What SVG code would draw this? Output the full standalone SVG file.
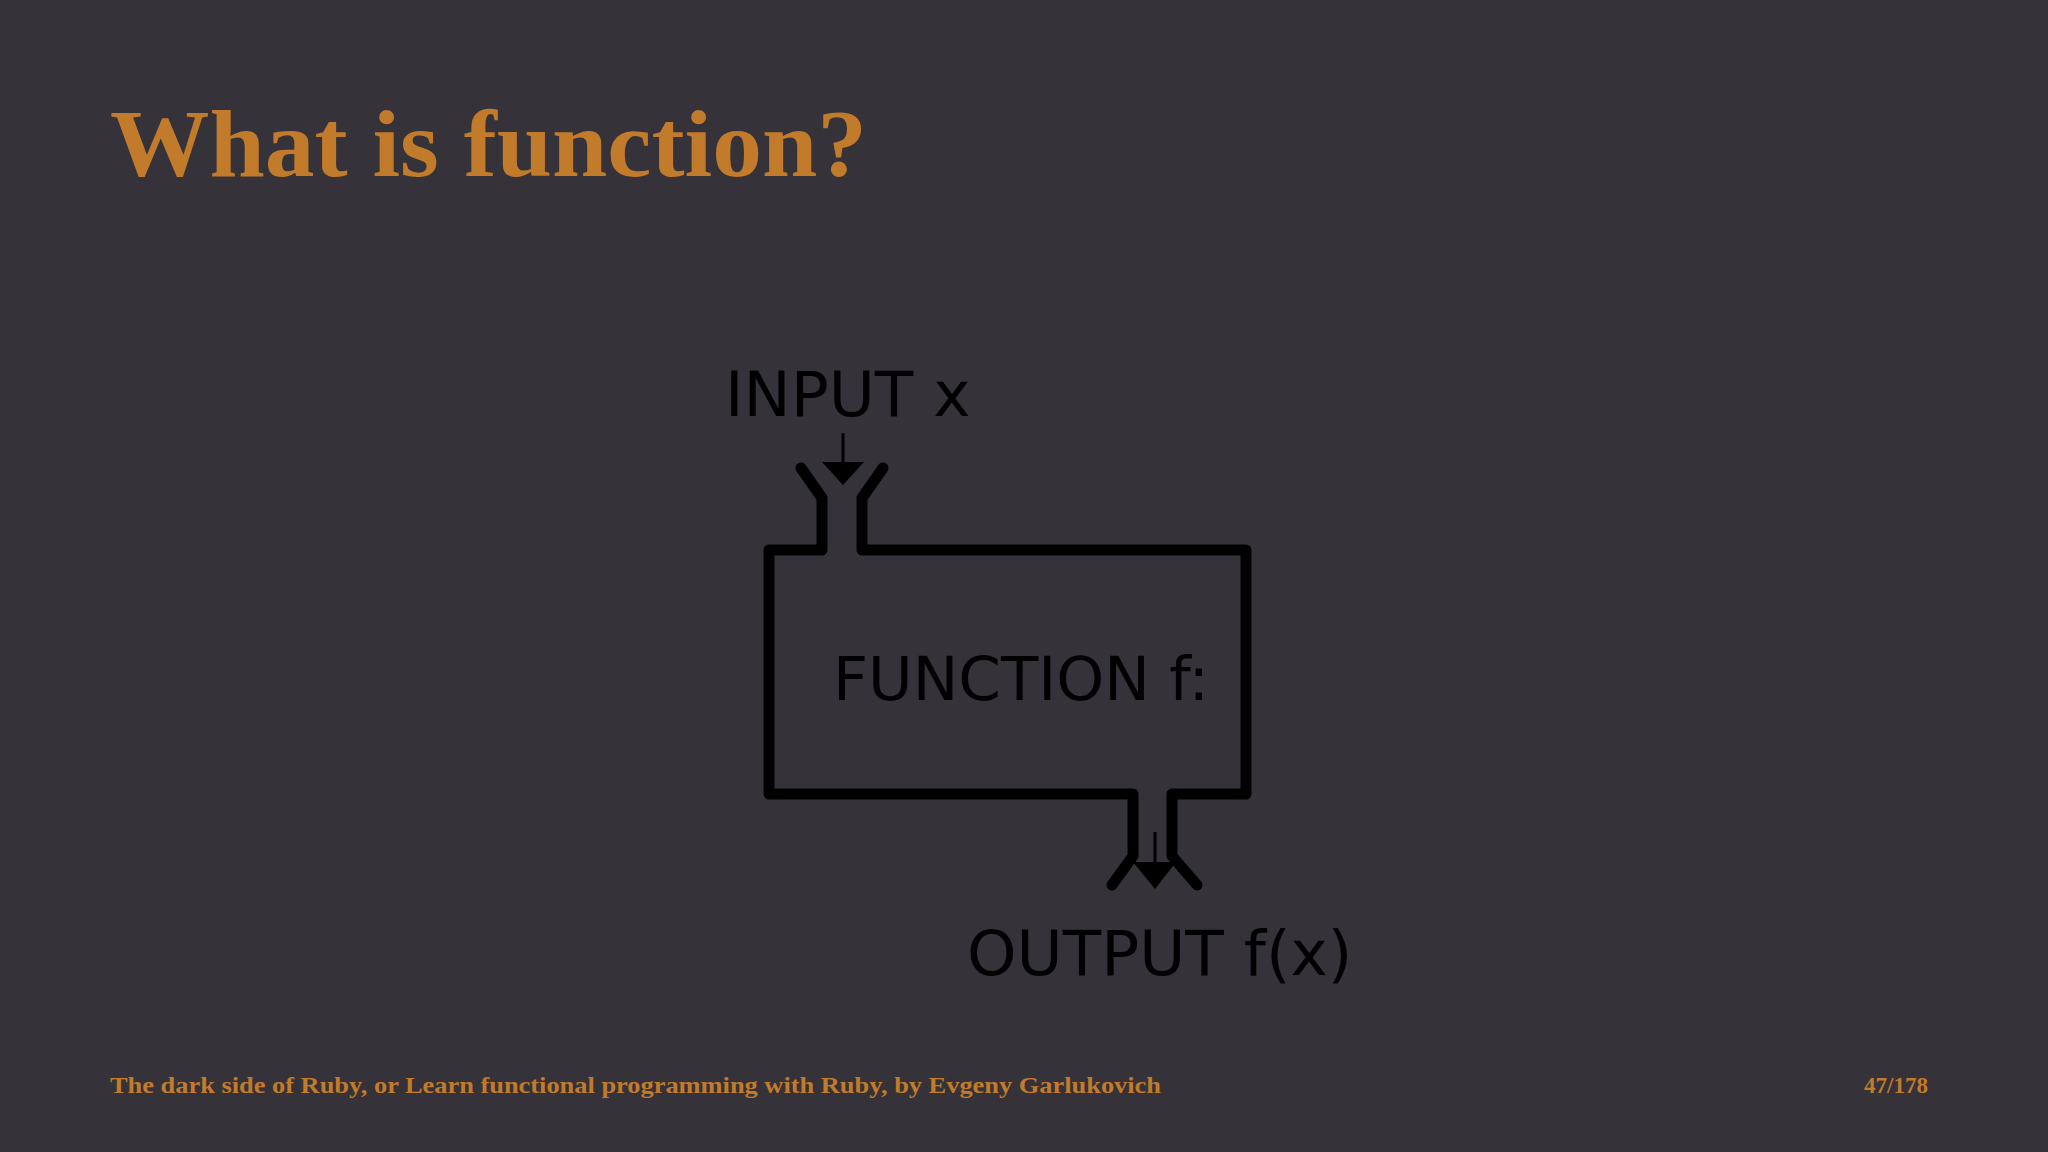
<svg xmlns="http://www.w3.org/2000/svg" width="2048" height="1152" viewBox="0 0 2048 1152">
<style>
.ln{fill:none;stroke:#000;stroke-width:11;stroke-linecap:round;stroke-linejoin:round}
.lbl{font-family:"DejaVu Sans",sans-serif;fill:#000}
.or{fill:#c27a2b;font-family:"Liberation Serif",serif;font-weight:bold}
</style>
<rect width="2048" height="1152" fill="#353339"/>
<text class="or" x="110" y="176" font-size="96" textLength="757" lengthAdjust="spacingAndGlyphs">What is function?</text>
<g id="function">
<path class="ln" d="M822,550 L822,498 L801,468 M862,550 L862,498 L883,468 M822,550 L769,550 L769,794 L1133,794 L1133,856 L1112,885 M862,550 L1246,550 L1246,794 L1172,794 L1172,856 L1197,885"/>
<text class="lbl" x="833" y="700" font-size="61">FUNCTION f:</text>
</g>
<g id="input">
<text class="lbl" x="725" y="416" font-size="63">INPUT x</text>
</g>
<g id="output">
<text class="lbl" x="967" y="975" font-size="63">OUTPUT f(x)</text>
</g>
<g id="connectors">
<line x1="843" y1="433" x2="843" y2="465" stroke="#000" stroke-width="3"/>
<polygon points="822,462 864,462 843,485" fill="#000"/>
<line x1="1155" y1="832" x2="1155" y2="865" stroke="#000" stroke-width="3"/>
<polygon points="1133,862 1176,862 1155,889" fill="#000"/>
</g>
<text class="or" x="110" y="1093" font-size="23" font-weight="normal" textLength="1051" lengthAdjust="spacingAndGlyphs">The dark side of Ruby, or Learn functional programming with Ruby, by Evgeny Garlukovich</text>
<text class="or" x="1864" y="1093" font-size="23" font-weight="normal">47/178</text>
</svg>
